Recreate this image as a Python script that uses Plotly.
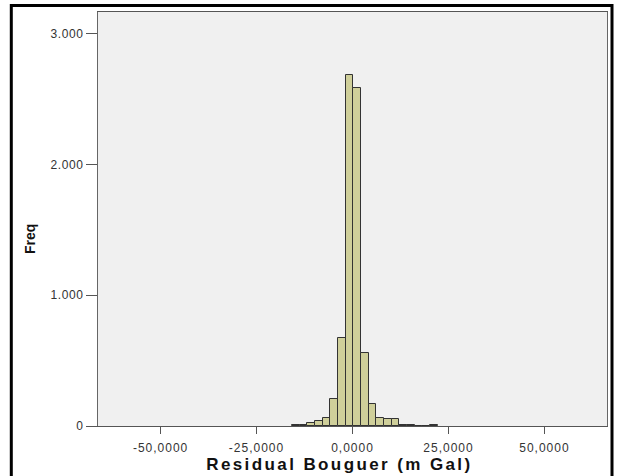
import plotly.graph_objects as go

# Histogram bins (centers, bin width 2) and frequencies
bin_centers = [-14.8, -12.8, -10.8, -8.8, -6.8, -4.8, -2.8, -0.8, 1.2, 3.2,
               5.2, 7.2, 9.2, 11.2, 13.2, 15.2, 17.2, 19.2, 21.2]
frequencies = [8, 8, 23, 36, 64, 210, 676, 2684, 2584, 561,
               170, 64, 50, 50, 8, 8, 0, 0, 8]
bin_width = 2

x_tickvals = [-50, -25, 0, 25, 50]
x_ticktext = ["-50,0000", "-25,0000", "0,0000", "25,0000", "50,0000"]
y_tickvals = [0, 1000, 2000, 3000]
y_ticktext = ["0", "1.000", "2.000", "3.000"]

FONT = "Liberation Sans, Arial, sans-serif"

fig = go.Figure()
fig.add_trace(go.Bar(
    x=bin_centers, y=frequencies, width=[bin_width] * len(bin_centers),
    marker=dict(color="#CFCF9A", line=dict(color="#333333", width=1)),
    hoverinfo="x+y",
))

# plot area in pixels: x 98..607, y 12..426
W, H = 623, 476
L, R, T, B = 98, 16, 12, 50
pw, ph = W - L - R, H - T - B

def px_x(p):
    return (p - L) / pw

def px_y(p):
    return (H - B - p) / ph

fig.update_layout(
    width=W, height=H,
    margin=dict(l=L, r=R, t=T, b=B),
    paper_bgcolor="#FFFFFF",
    plot_bgcolor="#F0F0F0",
    showlegend=False,
    bargap=0,
    font=dict(family=FONT, size=12, color="#333333"),
    xaxis=dict(
        range=[-66.3, 66.3],
        tickvals=x_tickvals, ticktext=x_ticktext,
        ticks="outside", ticklen=7, tickcolor="#555555", tickwidth=1,
        ticklabelstandoff=4,
        showgrid=False, zeroline=False,
        showline=True, linecolor="#555555", linewidth=1, mirror=True,
        tickfont=dict(family=FONT, size=12, color="#333333"),
    ),
    yaxis=dict(
        range=[0, 3165],
        tickvals=y_tickvals, ticktext=y_ticktext,
        ticks="outside", ticklen=11, tickcolor="#555555", tickwidth=1,
        showgrid=False, zeroline=False,
        showline=True, linecolor="#666666", linewidth=1, mirror=True,
        tickfont=dict(family=FONT, size=12, color="#333333"),
    ),
    annotations=[
        dict(text="<b>Residual Bouguer (m Gal)</b>", xref="paper", yref="paper",
             x=px_x(339), y=px_y(464), showarrow=False,
             xanchor="center", yanchor="middle",
             font=dict(family=FONT, size=17, color="#111111")),
        dict(text="<b>Freq</b>", xref="paper", yref="paper",
             x=px_x(30), y=px_y(239), showarrow=False, textangle=-90,
             xanchor="center", yanchor="middle",
             font=dict(family=FONT, size=14, color="#111111")),
    ],
    shapes=[
        dict(type="rect", xref="paper", yref="paper",
             x0=px_x(11.3), x1=px_x(612), y0=px_y(490), y1=px_y(5.5),
             line=dict(color="#000000", width=3), fillcolor="rgba(0,0,0,0)",
             layer="above"),
    ],
)

post = """
document.body.style.margin='0';
document.body.style.overflow='hidden';
var anns = document.querySelectorAll('.annotation-text');
anns.forEach(function(t){
  if (t.textContent.indexOf('Residual') === 0) { t.style.letterSpacing = '2.4px'; }
});
document.querySelectorAll('.xtick text').forEach(function(t){ t.style.letterSpacing = '1px'; });
document.querySelectorAll('.ytick text').forEach(function(t){ t.style.letterSpacing = '0.6px'; });
"""

fig.write_html("out.html", post_script=post, config={"displayModeBar": False})
